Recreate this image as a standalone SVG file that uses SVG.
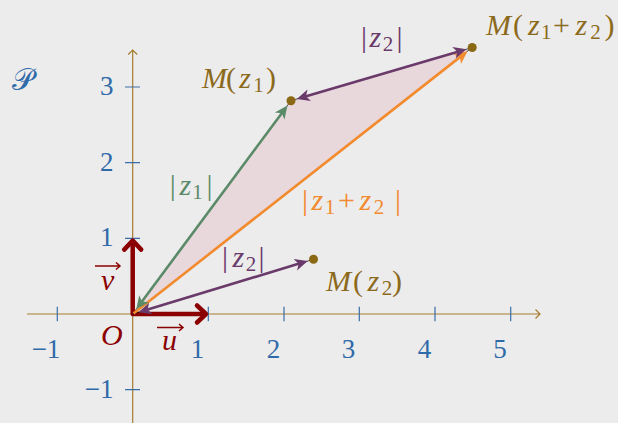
<svg xmlns="http://www.w3.org/2000/svg" width="618" height="423" viewBox="0 0 618 423">
<defs>
<style>
.axis{stroke:#a67c2e;stroke-width:1.2;fill:none}
.tick{stroke:#3a6ea8;stroke-width:1.2}
.tl{font-family:"Liberation Serif",serif;font-size:27px;fill:#2f6aa9}
.lab{font-family:"Liberation Serif",serif;font-size:30px}
.it{font-style:italic}
.sub{font-size:21px}
.gold{fill:#8c6a1c}
.green{fill:#5b8a68}
.purple{fill:#6a3a6a}
.orange{fill:#f28a2e}
.red{fill:#8b0000}
.dot{fill:#8b6914}
.guide{stroke:#000;stroke-width:0.7}
.vec{stroke-width:2.6;fill:none}
.unit{stroke:#8b0000;stroke-width:4.5;fill:none;stroke-linecap:round;stroke-linejoin:round}
.acc{stroke:#8b0000;stroke-width:1.5;fill:none}
</style>
<marker id="ahG" viewBox="0 -7 14 14" refX="5" refY="0" markerWidth="14" markerHeight="14" markerUnits="userSpaceOnUse" orient="auto-start-reverse"><path d="M0,-6 L13,0 L0,6 L3.5,0 Z" fill="#5b8a68"/></marker>
<marker id="ahP" viewBox="0 -7 14 14" refX="5" refY="0" markerWidth="14" markerHeight="14" markerUnits="userSpaceOnUse" orient="auto-start-reverse"><path d="M0,-6 L13,0 L0,6 L3.5,0 Z" fill="#6a3a6a"/></marker>
<marker id="ahO" viewBox="0 -7 14 14" refX="5" refY="0" markerWidth="14" markerHeight="14" markerUnits="userSpaceOnUse" orient="auto-start-reverse"><path d="M0,-6 L13,0 L0,6 L3.5,0 Z" fill="#f28a2e"/></marker>
</defs>
<rect width="618" height="423" fill="#ececec"/>
<g id="fill-triangle"><polygon points="132.7,314 291,100.7 472.2,47.5" fill="#e8d8dc"/></g>
<g id="axes">
<path class="axis" d="M27,314 H540 M535.5,309.5 L540,314 L535.5,318.5"/>
<path class="axis" d="M132.7,423 V50 M128.2,54.5 L132.7,50 L137.2,54.5"/>
<path class="tick" d="M57.3,306.7 V321.3 M208.3,306.7 V321.3 M284,306.7 V321.3 M359.3,306.7 V321.3 M435,306.7 V321.3 M510.7,306.7 V321.3 M125,87 H140 M125,162.7 H140 M125,238.3 H140 M125,389.7 H140"/>
<g text-anchor="middle">
<text class="tl" x="46" y="358">−1</text>
<text class="tl" x="197.5" y="358">1</text>
<text class="tl" x="273.5" y="358">2</text>
<text class="tl" x="348.5" y="358">3</text>
<text class="tl" x="424.5" y="358">4</text>
<text class="tl" x="500" y="358">5</text>
</g>
<g text-anchor="end">
<text class="tl" x="113.5" y="95">3</text>
<text class="tl" x="113.5" y="171">2</text>
<text class="tl" x="113.5" y="245.5">1</text>
<text class="tl" x="113.5" y="398">−1</text>
</g>
<text x="12" y="90" font-family="DejaVu Serif,DejaVu Sans,Noto Sans,serif" font-size="30" fill="#2f6aa9">𝒫</text>
</g>
<g id="unit-vectors">
<path class="unit" d="M132.7,241.5 V314 H205"/>
<path class="unit" d="M197,305.5 L206,314 L197,322.5"/>
<path class="unit" d="M124.2,249.6 L132.7,240.6 L141.2,249.6"/>
<text class="lab it red" x="162" y="350">u</text>
<path class="acc" d="M157,327.5 H183 M179,324 L183,327.5 L179,331"/>
<text class="lab it red" x="101" y="290">v</text>
<path class="acc" d="M95,266 H120 M116,262.5 L120,266 L116,269.5"/>
</g>
<g id="connectors">
<path class="guide" d="M132.7,314 L291,100.7 M132.7,314 L313.5,259.3 M291,100.7 L472.2,47.5 M132.7,314 L472.2,47.5"/>
<path class="vec" stroke="#f28a2e" d="M133.5,313.4 L461.19,56.14" marker-end="url(#ahO)"/>
<path class="vec" stroke="#5b8a68" d="M141.04,302.76 L282.66,111.94" marker-start="url(#ahG)" marker-end="url(#ahG)"/>
<path class="vec" stroke="#6a3a6a" d="M146.1,309.95 L300.1,263.35" marker-start="url(#ahP)" marker-end="url(#ahP)"/>
<path class="vec" stroke="#6a3a6a" d="M304.43,96.76 L458.77,51.44" marker-start="url(#ahP)" marker-end="url(#ahP)"/>
<text class="lab green" y="195"><tspan x="169.8">|</tspan><tspan x="179.6" class="it">z</tspan><tspan x="192.3" y="199" class="sub">1</tspan><tspan x="206.5" y="195">|</tspan></text>
<text class="lab orange" y="210"><tspan x="302">|</tspan><tspan x="311.6" class="it">z</tspan><tspan x="324.7" y="214" class="sub">1</tspan><tspan x="338" y="210">+</tspan><tspan x="359.6" class="it">z</tspan><tspan x="373.7" y="214" class="sub">2</tspan><tspan x="395" y="210">|</tspan></text>
<text class="lab purple" y="267"><tspan x="222">|</tspan><tspan x="232.6" class="it">z</tspan><tspan x="245.7" y="271" class="sub">2</tspan><tspan x="258.5" y="267">|</tspan></text>
<text class="lab purple" y="47"><tspan x="361">|</tspan><tspan x="369.6" class="it">z</tspan><tspan x="382.7" y="51" class="sub">2</tspan><tspan x="396.5" y="47">|</tspan></text>
</g>
<g id="node-O"><text class="lab it red" x="101" y="345">O</text></g>
<g id="node-Mz1"><circle class="dot" cx="291" cy="100.7" r="4.5"/>
<text class="lab gold" y="88"><tspan x="202" class="it">M</tspan><tspan x="226">(</tspan><tspan x="239.2" class="it">z</tspan><tspan x="253.3" y="92" class="sub">1</tspan><tspan x="266" y="88">)</tspan></text></g>
<g id="node-Mz2"><circle class="dot" cx="313.5" cy="259.3" r="4.5"/>
<text class="lab gold" y="291"><tspan x="326" class="it">M</tspan><tspan x="353">(</tspan><tspan x="367.6" class="it">z</tspan><tspan x="381.8" y="295" class="sub">2</tspan><tspan x="392" y="291">)</tspan></text></g>
<g id="node-Mz1z2"><circle class="dot" cx="472.2" cy="47.5" r="4.5"/>
<text class="lab gold" y="35"><tspan x="486" class="it">M</tspan><tspan x="513">(</tspan><tspan x="528" class="it">z</tspan><tspan x="541" y="39" class="sub">1</tspan><tspan x="553" y="35">+</tspan><tspan x="575.6" class="it">z</tspan><tspan x="590.3" y="39" class="sub">2</tspan><tspan x="604.5" y="35">)</tspan></text></g>
</svg>
